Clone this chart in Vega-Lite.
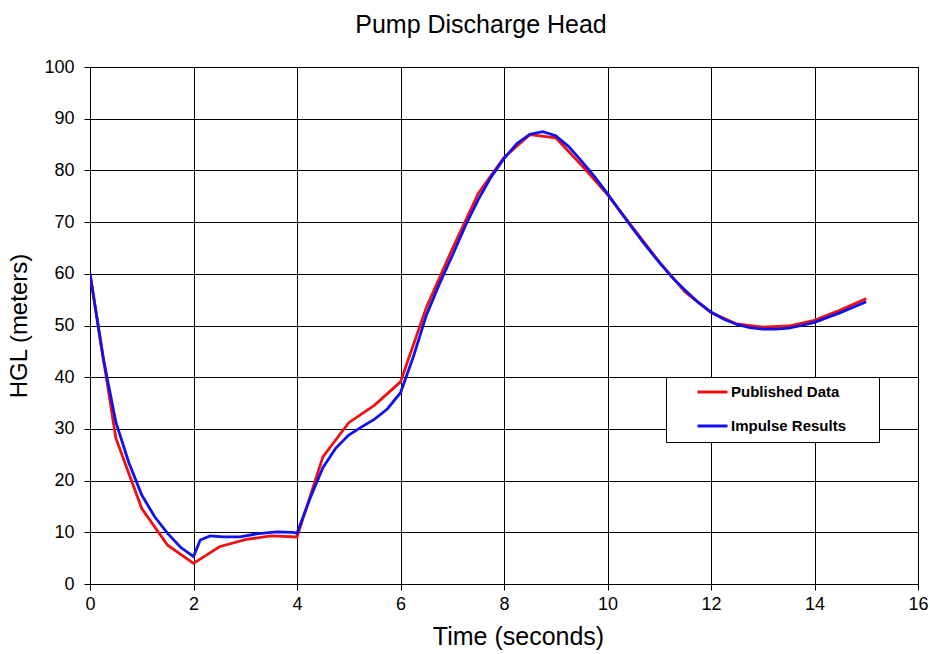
{
  "$schema": "https://vega.github.io/schema/vega-lite/v6.json",
  "width": 828,
  "height": 517,
  "autosize": "none",
  "padding": {"left": 90, "top": 67, "right": 12, "bottom": 70},
  "background": "white",
  "title": {"text": "Pump Discharge Head", "fontSize": 25, "fontWeight": "normal", "font": "Liberation Sans", "color": "black", "offset": 20, "dx": -23},
  "config": {
    "font": "Liberation Sans",
    "view": {"stroke": "black", "strokeWidth": 1}
  },
  "data": {"values": [
    {"t": 0, "v": 60, "s": "Published Data"},
    {"t": 0.5, "v": 28.2, "s": "Published Data"},
    {"t": 1.0, "v": 14.6, "s": "Published Data"},
    {"t": 1.5, "v": 7.5, "s": "Published Data"},
    {"t": 2.0, "v": 4.0, "s": "Published Data"},
    {"t": 2.5, "v": 7.2, "s": "Published Data"},
    {"t": 3.0, "v": 8.6, "s": "Published Data"},
    {"t": 3.5, "v": 9.3, "s": "Published Data"},
    {"t": 4.0, "v": 9.1, "s": "Published Data"},
    {"t": 4.5, "v": 24.6, "s": "Published Data"},
    {"t": 5.0, "v": 31.2, "s": "Published Data"},
    {"t": 5.5, "v": 34.6, "s": "Published Data"},
    {"t": 6.0, "v": 39.1, "s": "Published Data"},
    {"t": 6.5, "v": 53.5, "s": "Published Data"},
    {"t": 7.0, "v": 64.8, "s": "Published Data"},
    {"t": 7.5, "v": 75.5, "s": "Published Data"},
    {"t": 8.0, "v": 82.5, "s": "Published Data"},
    {"t": 8.5, "v": 86.9, "s": "Published Data"},
    {"t": 9.0, "v": 86.3, "s": "Published Data"},
    {"t": 9.5, "v": 81.0, "s": "Published Data"},
    {"t": 10.0, "v": 75.3, "s": "Published Data"},
    {"t": 10.5, "v": 68.8, "s": "Published Data"},
    {"t": 11.0, "v": 62.3, "s": "Published Data"},
    {"t": 11.5, "v": 56.5, "s": "Published Data"},
    {"t": 12.0, "v": 52.5, "s": "Published Data"},
    {"t": 12.5, "v": 50.3, "s": "Published Data"},
    {"t": 13.0, "v": 49.7, "s": "Published Data"},
    {"t": 13.5, "v": 49.9, "s": "Published Data"},
    {"t": 14.0, "v": 51.0, "s": "Published Data"},
    {"t": 14.5, "v": 53.0, "s": "Published Data"},
    {"t": 15.0, "v": 55.2, "s": "Published Data"},
    {"t": 0, "v": 60, "s": "Impulse Results"},
    {"t": 0.25, "v": 44, "s": "Impulse Results"},
    {"t": 0.5, "v": 31.3, "s": "Impulse Results"},
    {"t": 0.75, "v": 23.5, "s": "Impulse Results"},
    {"t": 1.0, "v": 17.2, "s": "Impulse Results"},
    {"t": 1.25, "v": 13.0, "s": "Impulse Results"},
    {"t": 1.5, "v": 9.8, "s": "Impulse Results"},
    {"t": 1.75, "v": 7.1, "s": "Impulse Results"},
    {"t": 2.0, "v": 5.3, "s": "Impulse Results"},
    {"t": 2.13, "v": 8.5, "s": "Impulse Results"},
    {"t": 2.32, "v": 9.3, "s": "Impulse Results"},
    {"t": 2.58, "v": 9.1, "s": "Impulse Results"},
    {"t": 2.9, "v": 9.1, "s": "Impulse Results"},
    {"t": 3.22, "v": 9.7, "s": "Impulse Results"},
    {"t": 3.6, "v": 10.1, "s": "Impulse Results"},
    {"t": 3.93, "v": 10.0, "s": "Impulse Results"},
    {"t": 4.0, "v": 9.8, "s": "Impulse Results"},
    {"t": 4.25, "v": 16.5, "s": "Impulse Results"},
    {"t": 4.5, "v": 22.5, "s": "Impulse Results"},
    {"t": 4.75, "v": 26.3, "s": "Impulse Results"},
    {"t": 5.0, "v": 28.8, "s": "Impulse Results"},
    {"t": 5.25, "v": 30.4, "s": "Impulse Results"},
    {"t": 5.5, "v": 31.9, "s": "Impulse Results"},
    {"t": 5.75, "v": 33.9, "s": "Impulse Results"},
    {"t": 6.0, "v": 37.0, "s": "Impulse Results"},
    {"t": 6.25, "v": 44.0, "s": "Impulse Results"},
    {"t": 6.5, "v": 52.0, "s": "Impulse Results"},
    {"t": 6.75, "v": 58.0, "s": "Impulse Results"},
    {"t": 7.0, "v": 63.5, "s": "Impulse Results"},
    {"t": 7.25, "v": 69.2, "s": "Impulse Results"},
    {"t": 7.5, "v": 74.3, "s": "Impulse Results"},
    {"t": 7.75, "v": 78.7, "s": "Impulse Results"},
    {"t": 8.0, "v": 82.3, "s": "Impulse Results"},
    {"t": 8.25, "v": 85.2, "s": "Impulse Results"},
    {"t": 8.5, "v": 87.0, "s": "Impulse Results"},
    {"t": 8.75, "v": 87.5, "s": "Impulse Results"},
    {"t": 9.0, "v": 86.7, "s": "Impulse Results"},
    {"t": 9.25, "v": 84.6, "s": "Impulse Results"},
    {"t": 9.5, "v": 81.8, "s": "Impulse Results"},
    {"t": 9.75, "v": 78.8, "s": "Impulse Results"},
    {"t": 10.0, "v": 75.5, "s": "Impulse Results"},
    {"t": 10.25, "v": 72.0, "s": "Impulse Results"},
    {"t": 10.5, "v": 68.6, "s": "Impulse Results"},
    {"t": 10.75, "v": 65.3, "s": "Impulse Results"},
    {"t": 11.0, "v": 62.2, "s": "Impulse Results"},
    {"t": 11.25, "v": 59.3, "s": "Impulse Results"},
    {"t": 11.5, "v": 56.8, "s": "Impulse Results"},
    {"t": 11.75, "v": 54.5, "s": "Impulse Results"},
    {"t": 12.0, "v": 52.6, "s": "Impulse Results"},
    {"t": 12.25, "v": 51.2, "s": "Impulse Results"},
    {"t": 12.5, "v": 50.2, "s": "Impulse Results"},
    {"t": 12.75, "v": 49.6, "s": "Impulse Results"},
    {"t": 13.0, "v": 49.3, "s": "Impulse Results"},
    {"t": 13.25, "v": 49.3, "s": "Impulse Results"},
    {"t": 13.5, "v": 49.5, "s": "Impulse Results"},
    {"t": 13.75, "v": 50.0, "s": "Impulse Results"},
    {"t": 14.0, "v": 50.6, "s": "Impulse Results"},
    {"t": 14.5, "v": 52.5, "s": "Impulse Results"},
    {"t": 15.0, "v": 54.6, "s": "Impulse Results"}
  ]},
  "mark": {"type": "line", "strokeWidth": 2.8, "clip": true},
  "encoding": {
    "x": {
      "field": "t", "type": "quantitative",
      "scale": {"domain": [0, 16], "nice": false, "zero": false},
      "axis": {
        "title": "Time (seconds)", "titleFontSize": 25, "titleFontWeight": "normal", "titleColor": "black", "titlePadding": 11, "titleX": 428,
        "values": [0, 2, 4, 6, 8, 10, 12, 14, 16], "labelFontSize": 18, "labelColor": "black", "labelPadding": 5, "labelFlush": false,
        "grid": true, "gridColor": "black", "gridOpacity": 1, "gridWidth": 1,
        "domainColor": "black", "tickColor": "black", "tickSize": 6
      }
    },
    "y": {
      "field": "v", "type": "quantitative",
      "scale": {"domain": [0, 100], "nice": false},
      "axis": {
        "title": "HGL (meters)", "titleFontSize": 24, "titleFontWeight": "normal", "titleColor": "black", "titlePadding": 12,
        "values": [0, 10, 20, 30, 40, 50, 60, 70, 80, 90, 100], "labelFontSize": 18, "labelColor": "black", "labelPadding": 10, "labelFlush": false,
        "grid": true, "gridColor": "black", "gridOpacity": 1, "gridWidth": 1,
        "domainColor": "black", "tickColor": "black", "tickSize": 6
      }
    },
    "color": {
      "field": "s", "type": "nominal",
      "scale": {"domain": ["Published Data", "Impulse Results"], "range": ["#ee1111", "#1111ee"]},
      "legend": {
        "title": " ", "titleOrient": "right", "titlePadding": 25,
        "orient": "none", "legendX": 576, "legendY": 310,
        "fillColor": "white", "strokeColor": "black", "padding": 8,
        "symbolType": "M-1,0L1,0", "symbolSize": 900, "symbolStrokeWidth": 3, "symbolOffset": 22,
        "clipHeight": 14,
        "labelFontSize": 15, "labelFontWeight": "bold", "labelColor": "black", "labelOffset": 2,
        "rowPadding": 19, "labelLimit": 300
      }
    },
    "order": {"field": "s", "sort": "descending"}
  }
}
